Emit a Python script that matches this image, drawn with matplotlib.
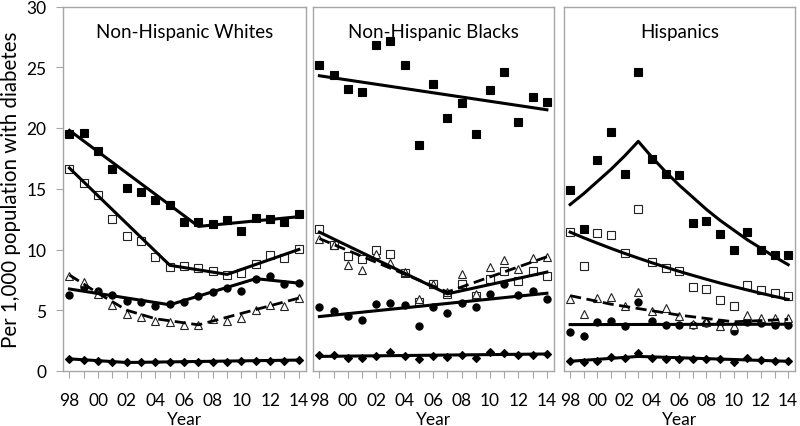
import matplotlib
matplotlib.use("Agg")
import matplotlib.pyplot as plt
import numpy as np

plt.rcParams['font.family'] = ['Lato', 'DejaVu Sans']

years = ['98', '99', '00', '01', '02', '03', '04', '05', '06', '07', '08', '09', '10', '11', '12', '13', '14']
panel_titles = ['Non-Hispanic Whites', 'Non-Hispanic Blacks', 'Hispanics']

# ---- Non-Hispanic Whites ----
w_sq = [19.5, 19.6, 18.1, 16.65, 15.06, 14.7, 14.07, 13.7, 12.26, 12.3, 12.1, 12.45, 11.5, 12.6, 12.5, 12.26, 12.9]
w_sq_fit_x = [0, 9, 16]
w_sq_fit_y = [19.8, 11.9, 12.7]
w_osq = [16.65, 15.47, 14.5, 12.53, 11.1, 10.74, 9.37, 8.6, 8.68, 8.49, 8.19, 7.91, 8.05, 8.77, 9.56, 9.29, 10.03]
w_osq_fit_x = [0, 7, 11, 16]
w_osq_fit_y = [16.7, 8.7, 7.95, 10.0]
w_circ = [6.29, 6.9, 6.57, 6.27, 5.8, 5.66, 5.39, 5.52, 5.66, 6.16, 6.54, 6.87, 6.57, 7.58, 7.86, 7.17, 7.23]
w_circ_fit_x = [0, 7, 13, 16]
w_circ_fit_y = [6.75, 5.45, 7.6, 7.23]
w_tri = [7.8, 7.31, 6.35, 5.47, 4.7, 4.42, 4.15, 4.01, 3.82, 3.82, 4.29, 4.15, 4.34, 5.03, 5.47, 5.33, 6.04]
w_tri_fit_x = [0, 2, 4, 6, 9, 16]
w_tri_fit_y = [7.9, 6.4, 5.0, 4.3, 3.8, 6.0]
w_dia = [1.0, 0.92, 0.82, 0.76, 0.7, 0.72, 0.72, 0.72, 0.73, 0.75, 0.76, 0.78, 0.8, 0.8, 0.82, 0.85, 0.9]
w_dia_fit_x = [0, 4, 16]
w_dia_fit_y = [1.0, 0.7, 0.9]

# ---- Non-Hispanic Blacks ----
b_sq = [25.17, 24.35, 23.2, 23.0, 26.8, 27.2, 25.2, 18.6, 23.6, 20.8, 22.07, 19.5, 23.1, 24.6, 20.5, 22.55, 22.1]
b_sq_fit_x = [0, 16]
b_sq_fit_y = [24.3, 21.5]
b_osq = [11.65, 10.33, 9.5, 9.18, 9.92, 9.65, 8.08, 5.66, 7.2, 6.35, 7.17, 6.16, 7.58, 8.19, 7.4, 8.22, 7.8]
b_osq_fit_x = [0, 9, 16]
b_osq_fit_y = [11.43, 6.35, 8.14]
b_circ = [5.25, 4.92, 4.56, 4.23, 5.52, 5.6, 5.44, 3.74, 5.25, 4.8, 5.6, 5.25, 6.3, 7.17, 6.29, 6.62, 5.94]
b_circ_fit_x = [0, 16]
b_circ_fit_y = [4.48, 6.4]
b_tri = [10.88, 10.39, 8.74, 8.35, 9.65, 8.9, 8.14, 5.9, 7.2, 6.5, 8.0, 6.3, 8.6, 9.15, 8.41, 9.32, 9.37]
b_tri_fit_x = [0, 9, 16]
b_tri_fit_y = [10.9, 6.5, 9.4]
b_dia = [1.3, 1.35, 1.1, 1.1, 1.2, 1.55, 1.25, 1.0, 1.2, 1.15, 1.3, 1.1, 1.55, 1.5, 1.3, 1.35, 1.4]
b_dia_fit_x = [0, 16]
b_dia_fit_y = [1.2, 1.4]

# ---- Hispanics ----
h_sq = [14.86, 11.65, 17.34, 19.67, 16.24, 24.57, 17.48, 16.18, 16.1, 12.17, 12.37, 11.24, 9.92, 11.46, 9.92, 9.56, 9.56]
h_sq_fit_x = list(range(17))
h_sq_fit_y = [13.7, 14.6, 15.6, 16.6, 17.7, 18.9, 17.6, 16.4, 15.3, 14.3, 13.3, 12.4, 11.6, 10.8, 10.1, 9.4, 8.75]
h_osq = [11.43, 8.68, 11.38, 11.16, 9.73, 13.3, 9.01, 8.49, 8.19, 6.9, 6.76, 5.88, 5.39, 7.09, 6.7, 6.46, 6.21]
h_osq_fit_x = list(range(17))
h_osq_fit_y = [11.43, 10.96, 10.52, 10.09, 9.68, 9.29, 8.91, 8.55, 8.2, 7.87, 7.55, 7.24, 6.95, 6.67, 6.4, 6.14, 5.89]
h_circ = [3.24, 2.86, 4.01, 4.15, 3.74, 5.66, 4.15, 3.82, 3.82, 3.82, 3.96, 3.96, 3.32, 4.01, 3.96, 3.82, 3.82]
h_circ_fit_x = [0, 16]
h_circ_fit_y = [3.82, 3.85]
h_tri = [5.94, 4.7, 5.99, 6.07, 5.33, 6.49, 4.97, 5.17, 4.56, 3.87, 4.07, 3.74, 3.68, 4.62, 4.4, 4.4, 4.4]
h_tri_fit_x = [0, 3, 8, 12, 16]
h_tri_fit_y = [6.2, 5.5, 4.6, 4.05, 4.25]
h_dia = [0.85, 0.7, 0.85, 1.18, 1.07, 1.48, 1.1, 0.96, 0.96, 0.96, 0.96, 0.96, 0.7, 1.07, 0.9, 0.85, 0.82]
h_dia_fit_x = [0, 5, 16]
h_dia_fit_y = [0.8, 1.2, 0.8]

panels = [
    [(w_sq, w_sq_fit_x, w_sq_fit_y, 'sq'), (w_osq, w_osq_fit_x, w_osq_fit_y, 'osq'),
     (w_circ, w_circ_fit_x, w_circ_fit_y, 'circ'), (w_tri, w_tri_fit_x, w_tri_fit_y, 'tri'),
     (w_dia, w_dia_fit_x, w_dia_fit_y, 'dia')],
    [(b_sq, b_sq_fit_x, b_sq_fit_y, 'sq'), (b_osq, b_osq_fit_x, b_osq_fit_y, 'osq'),
     (b_circ, b_circ_fit_x, b_circ_fit_y, 'circ'), (b_tri, b_tri_fit_x, b_tri_fit_y, 'tri'),
     (b_dia, b_dia_fit_x, b_dia_fit_y, 'dia')],
    [(h_sq, h_sq_fit_x, h_sq_fit_y, 'sq'), (h_osq, h_osq_fit_x, h_osq_fit_y, 'osq'),
     (h_circ, h_circ_fit_x, h_circ_fit_y, 'circ'), (h_tri, h_tri_fit_x, h_tri_fit_y, 'tri'),
     (h_dia, h_dia_fit_x, h_dia_fit_y, 'dia')],
]

styles = {
    'sq':   dict(marker='s', ms=5.8, mfc='black', mec='black', mew=0.8),
    'osq':  dict(marker='s', ms=5.8, mfc='white', mec='#222222', mew=0.8),
    'circ': dict(marker='o', ms=5.2, mfc='black', mec='black', mew=0.8),
    'tri':  dict(marker='^', ms=6.0, mfc='white', mec='#222222', mew=0.8),
    'dia':  dict(marker='D', ms=3.6, mfc='black', mec='black', mew=0.8),
}

fig = plt.figure(figsize=(8.0, 4.27), dpi=100)
bottom = 1 - 372 / 427
top = 1 - 7.5 / 427
height = top - bottom
rects = [(63 / 800, 243 / 800), (313 / 800, 241 / 800), (564 / 800, 231 / 800)]
frame_col = '#A6A6A6'
x = np.arange(len(years))

for pi, (left, width) in enumerate(rects):
    ax = fig.add_axes([left, bottom, width, height])
    for vals, fx, fy, kind in panels[pi]:
        ax.plot(x, vals, ls='none', zorder=3, **styles[kind])
        if kind == 'tri':
            ax.plot(fx, fy, color='black', lw=2.0, ls=(0, (4, 2)), zorder=4)
        else:
            ax.plot(fx, fy, color='black', lw=2.2, zorder=4)
    ax.set_xlim(-0.45, 16.5)
    ax.set_ylim(0, 30)
    for s in ax.spines.values():
        s.set_color(frame_col)
        s.set_linewidth(1.0)
    ax.set_xticks(x)
    ax.set_xticklabels([y if i % 2 == 0 else '' for i, y in enumerate(years)], fontsize=12.5)
    ax.tick_params(axis='x', direction='out', length=5, color=frame_col, pad=10)
    if pi == 0:
        ax.set_yticks([0, 5, 10, 15, 20, 25, 30])
        ax.tick_params(axis='y', direction='out', length=5, color=frame_col, labelsize=12.5, pad=7)
        ax.set_ylabel('Per 1,000 population with diabetes', fontsize=14.8, labelpad=4)
    else:
        ax.set_yticks([])
    ax.set_xlabel('Year', fontsize=12.5, labelpad=2)
    ax.text(0.5, 0.955, panel_titles[pi], transform=ax.transAxes, ha='center', va='top', fontsize=13.5)

fig.savefig('out.png', dpi=100)
